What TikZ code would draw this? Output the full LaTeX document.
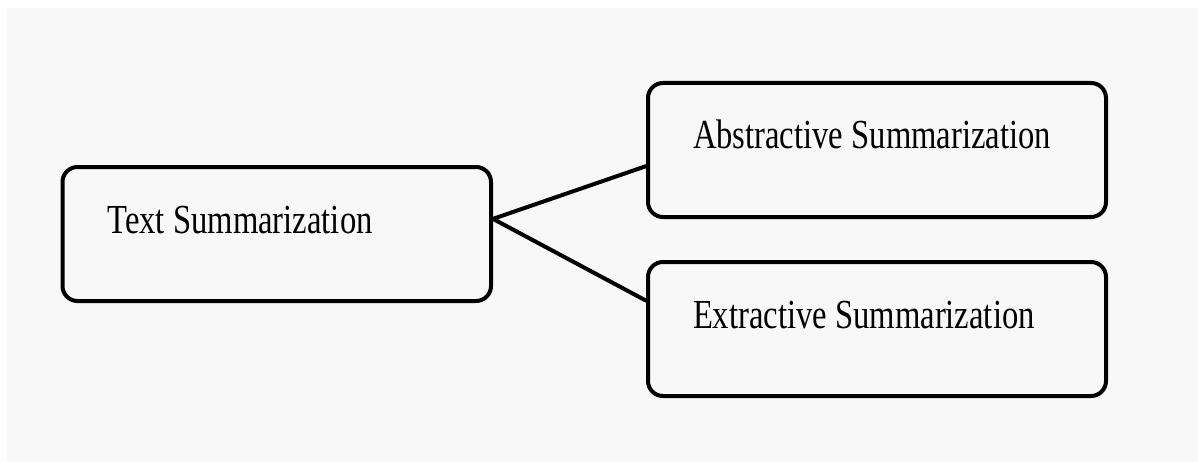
\documentclass[tikz,border=0pt]{standalone}
\usepackage{fontspec}
\setmainfont{Liberation Serif}[FakeStretch=0.79]
\usepackage{tikz}
\usetikzlibrary{positioning}
\definecolor{bgcol}{HTML}{F8F8F8}
\tikzset{
  sumbox/.style={rectangle, rounded corners=0.3cm, draw=black, line width=0.08cm, align=left, inner xsep=0.9cm, inner ysep=0pt, text height=0.56cm, text depth=0.6cm, minimum height=2.68cm, execute at begin node={\spaceskip=0.2em\relax}},
  sumline/.style={line width=0.08cm, line cap=round},
}

\begin{document}
\begin{tikzpicture}[font=\fontsize{23.5}{28}\selectfont]
\fill[white] (0,0) rectangle (23.96,-9.24);
\fill[bgcol] (0.14,-0.16) rectangle (23.96,-9.24);
\useasboundingbox (0,0) rectangle (23.96,-9.24);
\node[sumbox, text width=6.77cm] (txt) at (5.535,-4.68) {Text Summarization};
\node[sumbox, text width=7.36cm, right=3.06cm of txt.east, yshift=1.68cm] (abs) {Abstractive Summarization};
\node[sumbox, text width=7.36cm, right=3.06cm of txt.east, yshift=-1.9cm] (ext) {Extractive Summarization};
\draw[sumline] (txt.4.5) -- (abs.184.5);
\draw[sumline] (txt.4.5) -- (ext.173.3);
\end{tikzpicture}
\end{document}
